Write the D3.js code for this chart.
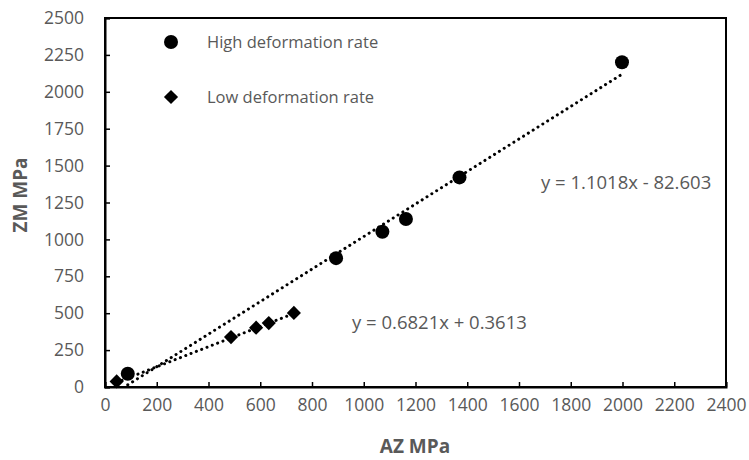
<!DOCTYPE html>
<html><head><meta charset="utf-8">
<script src="https://cdn.jsdelivr.net/npm/d3@7"></script>
<style>body{margin:0;background:#fff;} svg{display:block;}</style>
</head><body>
<div id="chart"></div>
<script>
const highX = [88, 893, 1072, 1163, 1370, 1998];
const highY = [90, 873, 1052, 1138, 1420, 2200];
const lowX = [45, 487, 584, 633, 730];
const lowY = [38, 338, 402, 433, 502];
const highFit = {slope: 1.1018, intercept: -82.603};
const lowFit = {slope: 0.6821, intercept: 0.3613};
const xTicks = [0,200,400,600,800,1000,1200,1400,1600,1800,2000,2200,2400];
const yTicks = [0,250,500,750,1000,1250,1500,1750,2000,2250,2500];
const legendLabels = ["High deformation rate", "Low deformation rate"];
const eqLabels = ["y = 1.1018x - 82.603", "y = 0.6821x + 0.3613"];

const W = 749, H = 460;
const m = {left:105, right:W-726, top:18, bottom:H-387};
const svg = d3.select("#chart").append("svg").attr("width",W).attr("height",H);
const x = d3.scaleLinear().domain([0,2400]).range([m.left, W-m.right]);
const y = d3.scaleLinear().domain([0,2500]).range([H-m.bottom, m.top]);
const font = "'Open Sans', 'Liberation Sans', sans-serif";
const gray = "#595959";
const fs = 17.5;

// frame
svg.append("rect").attr("x",x(0)).attr("y",y(2500)).attr("width",x(2400)-x(0)).attr("height",y(0)-y(2500))
  .attr("fill","none").attr("stroke","#000").attr("stroke-width",2);

const xAxis = svg.append("g").attr("transform",`translate(0,${y(0)})`)
  .call(d3.axisBottom(x).tickValues(xTicks).tickSize(-5).tickPadding(12).tickFormat(d3.format("d")));
const yAxis = svg.append("g").attr("transform",`translate(${x(0)},0)`)
  .call(d3.axisLeft(y).tickValues(yTicks).tickSize(-5).tickPadding(21).tickFormat(d3.format("d")));
[xAxis,yAxis].forEach(g=>{
  g.select(".domain").attr("stroke","#000").attr("stroke-width",2);
  g.selectAll(".tick line").attr("stroke","#000").attr("stroke-width",1.5);
  g.selectAll(".tick text").attr("fill",gray).attr("font-family",font).attr("font-size",fs);
});

// trendlines
function trend(xs, fit){
  const x0 = d3.min(xs), x1 = d3.max(xs);
  svg.append("line").attr("x1",x(x0)).attr("y1",y(fit.slope*x0+fit.intercept))
    .attr("x2",x(x1)).attr("y2",y(fit.slope*x1+fit.intercept))
    .attr("stroke","#000").attr("stroke-width",3).attr("stroke-linecap","round")
    .attr("stroke-dasharray","0.1 5.6");
}
trend(highX, highFit);
trend(lowX, lowFit);

const diamond = d3.symbol().type(d3.symbolSquare).size(100);
// points
svg.append("g").selectAll("circle").data(highX.map((v,i)=>[v,highY[i]])).join("circle")
  .attr("cx",d=>x(d[0])).attr("cy",d=>y(d[1])).attr("r",7).attr("fill","#000");
svg.append("g").selectAll("path").data(lowX.map((v,i)=>[v,lowY[i]])).join("path")
  .attr("d",diamond).attr("transform",d=>`translate(${x(d[0])},${y(d[1])}) rotate(45)`).attr("fill","#000");

// legend
svg.append("circle").attr("cx",171).attr("cy",42).attr("r",7).attr("fill","#000");
svg.append("path").attr("d",diamond).attr("transform","translate(171,97) rotate(45)").attr("fill","#000");
svg.selectAll(".leg").data(legendLabels).join("text").attr("class","leg")
  .attr("x",207).attr("y",(d,i)=>[48,103][i]).text(d=>d)
  .attr("fill",gray).attr("font-family",font).attr("font-size",16.5);

// equations
svg.append("text").attr("x",541).attr("y",189).text(eqLabels[0])
  .attr("fill",gray).attr("font-family",font).attr("font-size",18.5);
svg.append("text").attr("x",352).attr("y",329).text(eqLabels[1])
  .attr("fill",gray).attr("font-family",font).attr("font-size",18.5);

// axis titles
svg.append("text").attr("x",415).attr("y",453).attr("text-anchor","middle").text("AZ MPa")
  .attr("fill",gray).attr("font-family",font).attr("font-size",19).attr("font-weight","bold");
svg.append("text").attr("transform","translate(27,195) rotate(-90)").attr("text-anchor","middle").text("ZM MPa")
  .attr("fill",gray).attr("font-family",font).attr("font-size",19).attr("font-weight","bold");
</script>
</body></html>
